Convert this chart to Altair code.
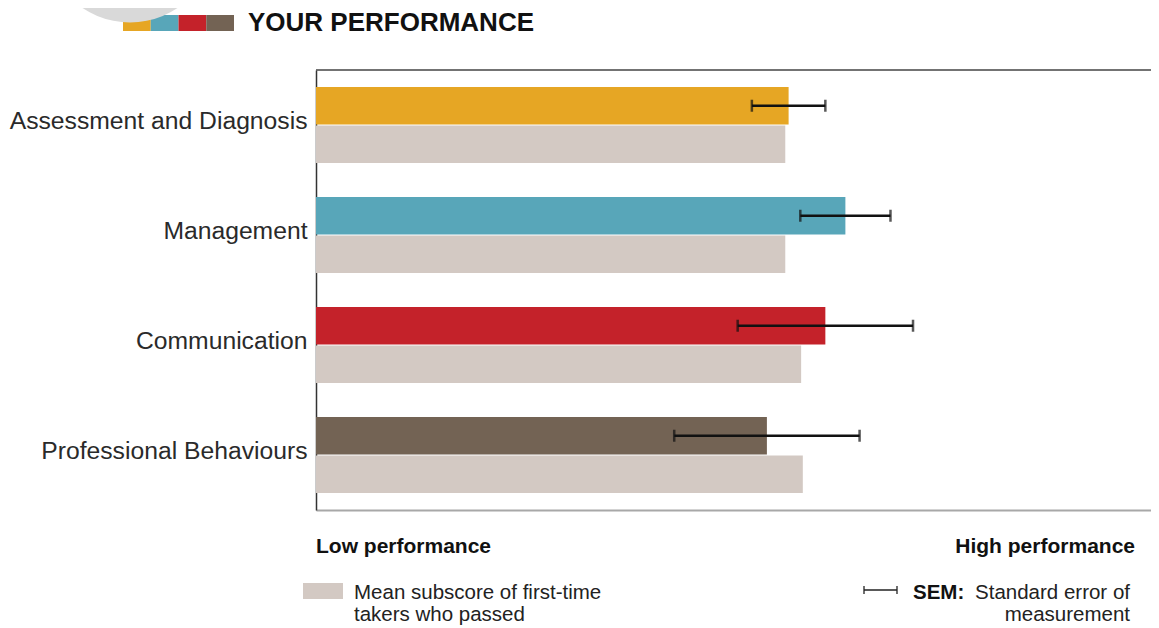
import altair as alt
import pandas as pd

# ---- data ----
categories = ["Assessment and Diagnosis", "Management", "Communication", "Professional Behaviours"]
your_score = [56.6, 63.4, 61.0, 54.0]
mean_passed = [56.2, 56.2, 58.1, 58.3]
sem = [4.4, 5.4, 10.5, 11.1]
cat_colors = ["#E6A624", "#58A6B9", "#C4222A", "#736354"]
mean_color = "#D3C9C3"
series = ["You", "Mean"]

rows = []
for c, y, m in zip(categories, your_score, mean_passed):
    rows.append({"cat": c, "series": "You", "value": y, "key": c})
    rows.append({"cat": c, "series": "Mean", "value": m, "key": "Mean"})
bars_df = pd.DataFrame(rows)
err_df = pd.DataFrame({"cat": categories, "series": ["You"] * len(categories),
                       "value": your_score, "sem": sem})
one = pd.DataFrame({"a": [0]})

W, H = 835, 440
FONT = "Liberation Sans"

xscale = alt.Scale(domain=[0, 100], nice=False, zero=True)
xaxis = alt.Axis(title=None, labels=False, ticks=False, grid=False,
                 domainColor="#A8A8A8", domainWidth=2)
yenc = alt.Y("cat:N", sort=categories,
             scale=alt.Scale(domain=categories, paddingInner=0.31, paddingOuter=0.155),
             axis=alt.Axis(title=None, ticks=False, labelFontSize=24.7, labelColor="#2a2a2a",
                           labelPadding=9, domainColor="#333333", domainWidth=1.5,
                           labelFont=FONT, labelLimit=400, labelOffset=-3))
yoff = alt.YOffset("series:N", sort=series,
                   scale=alt.Scale(domain=series, paddingInner=0.03))

bars = alt.Chart(bars_df).mark_bar().encode(
    x=alt.X("value:Q", scale=xscale, axis=xaxis),
    y=yenc,
    yOffset=yoff,
    color=alt.Color("key:N", scale=alt.Scale(domain=categories + ["Mean"],
                                             range=cat_colors + [mean_color]), legend=None),
)

err_base = alt.Chart(err_df).transform_calculate(
    lo="datum.value - datum.sem", hi="datum.value + datum.sem")
err_rule = err_base.mark_rule(color="#111111", strokeWidth=2.5).encode(
    x=alt.X("lo:Q", scale=xscale, axis=xaxis), x2="hi:Q", y=yenc, yOffset=yoff)
err_lo = err_base.mark_tick(color="#111111", thickness=2.5, size=12).encode(
    x=alt.X("lo:Q", scale=xscale, axis=xaxis), y=yenc, yOffset=yoff)
err_hi = err_base.mark_tick(color="#111111", thickness=2.5, size=12).encode(
    x=alt.X("hi:Q", scale=xscale, axis=xaxis), y=yenc, yOffset=yoff)

top_border = alt.Chart(one).mark_rule(color="#444444", strokeWidth=1.5).encode(
    x=alt.value(0), x2=alt.value(W), y=alt.value(0))

# ---- header decoration ----
squares = []
for i, c in enumerate(cat_colors):
    squares.append(alt.Chart(one).mark_rect(color=c).encode(
        x=alt.value(-193 + 27.75 * i), x2=alt.value(-193 + 27.75 * (i + 1)),
        y=alt.value(-55), y2=alt.value(-39)))
circle = alt.Chart(one).mark_point(shape="circle", filled=True, size=29241,
                                   color="#D9D9D9", opacity=1).encode(
    x=alt.value(-186), y=alt.value(-133))
title = alt.Chart(one).mark_text(text="YOUR PERFORMANCE", font=FONT, fontSize=26,
                                 fontWeight="bold", align="left", baseline="alphabetic",
                                 color="#111111").encode(x=alt.value(-68), y=alt.value(-39))

# ---- bottom annotations / legend ----
low = alt.Chart(one).mark_text(text="Low performance", font=FONT, fontSize=21, fontWeight="bold",
                               align="left", baseline="alphabetic", color="#111111").encode(
    x=alt.value(0), y=alt.value(483))
high = alt.Chart(one).mark_text(text="High performance", font=FONT, fontSize=21, fontWeight="bold",
                                align="right", baseline="alphabetic", color="#111111").encode(
    x=alt.value(819), y=alt.value(483))
swatch = alt.Chart(one).mark_rect(color=mean_color).encode(
    x=alt.value(-13), x2=alt.value(27), y=alt.value(513), y2=alt.value(529))
leg = alt.Chart(one).mark_text(text=["Mean subscore of first-time", "takers who passed"],
                               font=FONT, fontSize=20.5, lineHeight=22,
                               align="left", baseline="alphabetic", color="#222222").encode(
    x=alt.value(38), y=alt.value(529))
sem_line = alt.Chart(one).mark_rule(color="#222222", strokeWidth=1.3).encode(
    x=alt.value(548), x2=alt.value(581), y=alt.value(520))
sem_cap1 = alt.Chart(one).mark_rule(color="#222222", strokeWidth=1.3).encode(
    x=alt.value(548), y=alt.value(516), y2=alt.value(524))
sem_cap2 = alt.Chart(one).mark_rule(color="#222222", strokeWidth=1.3).encode(
    x=alt.value(581), y=alt.value(516), y2=alt.value(524))
sem_b = alt.Chart(one).mark_text(text="SEM:", font=FONT, fontSize=20.5, fontWeight="bold",
                                 align="left", baseline="alphabetic", color="#111111").encode(
    x=alt.value(597), y=alt.value(529))
sem_t = alt.Chart(one).mark_text(text=["Standard error of", "measurement"], font=FONT,
                                 fontSize=20.5, lineHeight=22,
                                 align="right", baseline="alphabetic", color="#222222").encode(
    x=alt.value(814), y=alt.value(529))

chart = alt.layer(
    bars, err_rule, err_lo, err_hi, top_border,
    *squares, circle, title,
    low, high, swatch, leg, sem_line, sem_cap1, sem_cap2, sem_b, sem_t,
).properties(
    width=W, height=H,
    autosize=alt.AutoSizeParams(type="none"),
    padding={"left": 308, "top": 62, "right": 0, "bottom": 118},
).configure(font=FONT).configure_view(stroke=None)

chart.save("out.html", embed_options={"renderer": "svg", "actions": False})
